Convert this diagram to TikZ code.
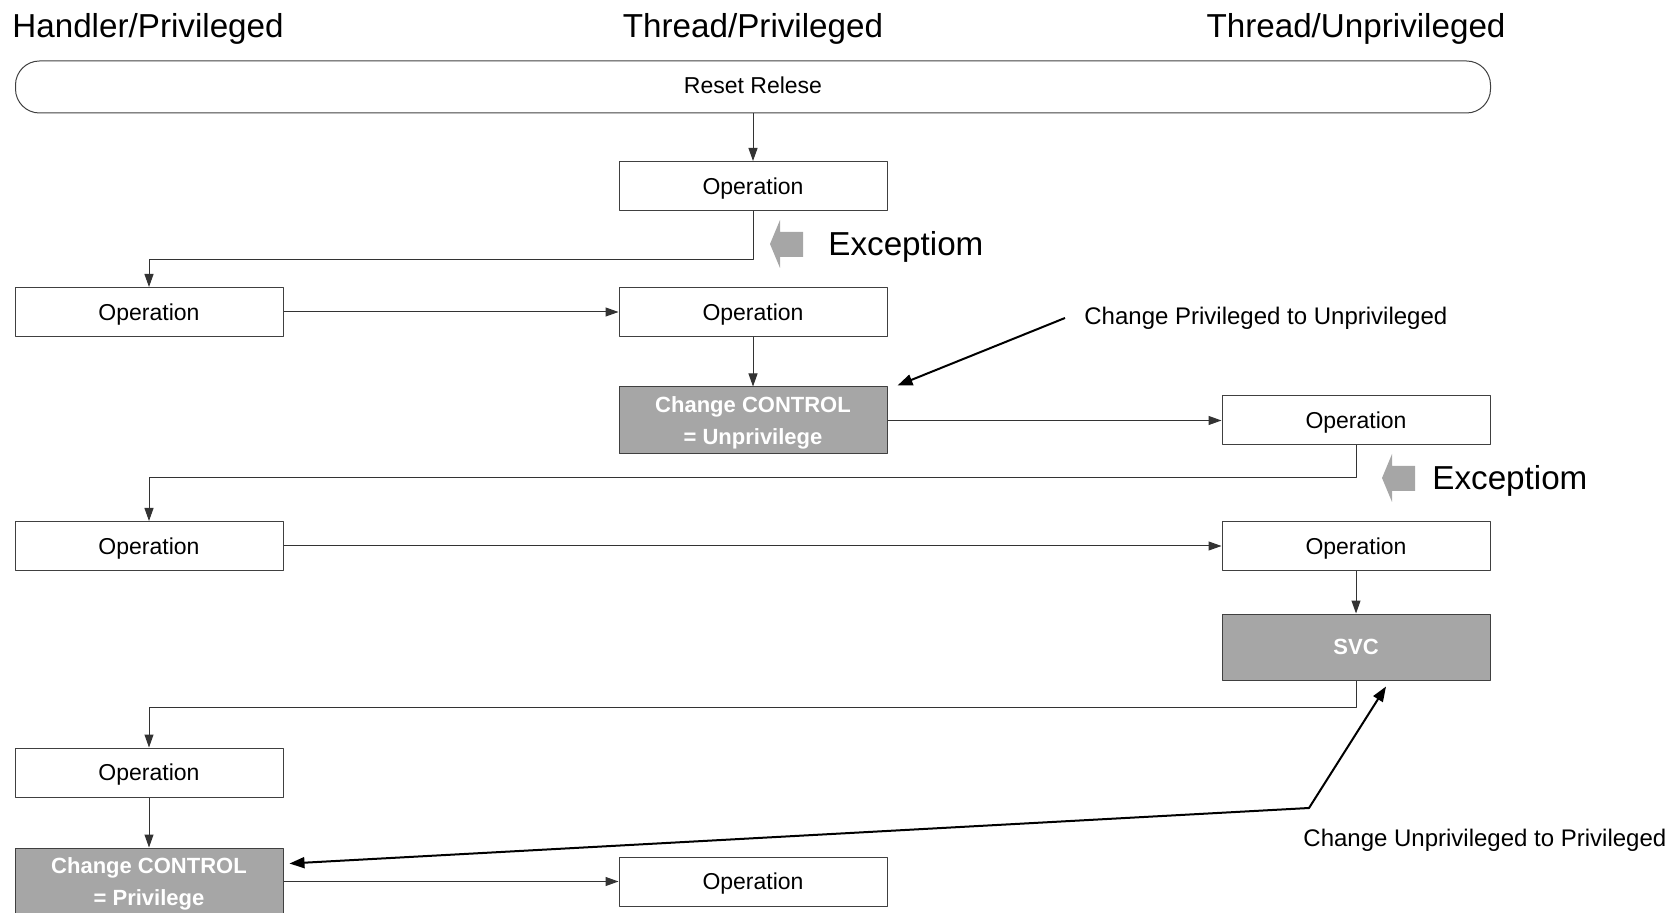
\documentclass[tikz,border=0pt]{standalone}
\usepackage{fontspec}
\setmainfont{Liberation Sans}
\usetikzlibrary{arrows.meta}
\begin{document}
\begin{tikzpicture}[x=0.5pt,y=-0.5pt,>={Triangle[length=6.5pt,width=4.5pt]},line join=round,
  box/.style={draw=black!75,line width=0.5pt,minimum width=134pt,minimum height=24.5pt,inner sep=0pt,text depth=0pt,font=\fontsize{11.5}{14}\selectfont},
  ctrl/.style={box,fill=black!35,text=white,minimum height=33.5pt,align=center,font=\fontsize{11}{16}\selectfont\bfseries},
  conn/.style={->,draw=black!80,line width=0.5pt},
  note/.style={line width=1pt,>={Triangle[length=7.5pt,width=5.5pt]}},
  head/.style={inner sep=0pt,font=\fontsize{16.6}{20}\selectfont},
  remark/.style={inner sep=0pt,anchor=west,font=\fontsize{12}{14}\selectfont}]
  \useasboundingbox (0,0) rectangle (1668,913);
  \def\xl{149} \def\xm{753} \def\xr{1356}
  %\draw[color=gray!50,dashed] (0,0) grid[step=100] (1668,913);
  \node[head,anchor=west] (hp) at (12,28.5) {Handler/Privileged};
  \node[head] (tp) at (\xm,28.5) {Thread/Privileged};
  \node[head] (tu) at (\xr,28.5) {Thread/Unprivileged};
  \node[box,minimum width=737.5pt,minimum height=26pt,rounded corners=12pt,text depth=2pt] (reset) at (\xm,87) {Reset Relese};
  \node[box] (op1) at (\xm,186) {Operation};
  \node[box] (op2) at (\xl,312) {Operation};
  \node[box] (op3) at (\xm,312) {Operation};
  \node[ctrl] (unpriv) at (\xm,420.5) {Change CONTROL\\= Unprivilege};
  \node[box] (op4) at (\xr,420.5) {Operation};
  \node[box] (op5) at (\xl,546) {Operation};
  \node[box] (op6) at (\xr,546) {Operation};
  \node[ctrl,minimum height=33pt] (svc) at (\xr,647) {SVC};
  \node[box] (op7) at (\xl,772.5) {Operation};
  \node[ctrl] (priv) at (\xl,881.5) {Change CONTROL\\= Privilege};
  \node[box] (op8) at (\xm,881.5) {Operation};
  \draw[conn] (reset) -- (op1);
  \draw[conn] (op1.south) -- ++(0,49) -| (op2.north);
  \draw[conn] (op2) -- (op3);
  \draw[conn] (op3) -- (unpriv);
  \draw[conn] (unpriv) -- (op4);
  \draw[conn] (op4.south) -- ++(0,32) -| (op5.north);
  \draw[conn] (op5) -- (op6);
  \draw[conn] (op6) -- (svc);
  \draw[conn] (svc.south) -- ++(0,27) -| (op7.north);
  \draw[conn] (op7) -- (priv);
  \draw[conn] (priv) -- (op8);
  \foreach \ax/\ay/\tx [count=\i] in {770/244/828, 1382/478/1432}{
    \fill[black!35] (\ax,\ay) -- ++(10,-24) -- ++(0,12) -- ++(23,0) -- ++(0,25) -- ++(-23,0) -- ++(0,11) -- cycle;
    \node[head,anchor=west] (exc\i) at (\tx,\ay+3) {Exceptiom};
  }
  \node[remark] (rem1) at (1084,318) {Change Privileged to Unprivileged};
  \node[remark] (rem2) at (1303,840) {Change Unprivileged to Privileged};
  \coordinate (bend) at (1309,808);
  \draw[note,->] ([xshift=-9.5pt,yshift=0pt]rem1.west) -- ([xshift=5pt,yshift=0.5pt]unpriv.north east);
  \draw[note,<->] ([xshift=3pt,yshift=9pt]priv.east) -- (bend) -- ([xshift=15pt,yshift=-3pt]svc.south);
\end{tikzpicture}
\end{document}
